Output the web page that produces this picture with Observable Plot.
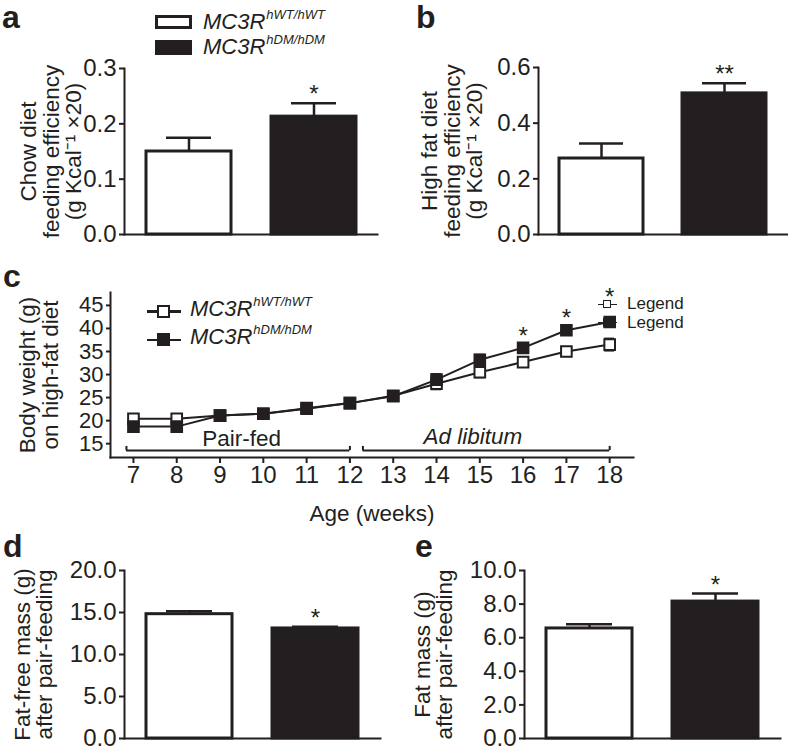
<!DOCTYPE html>
<html>
<head>
<meta charset="utf-8">
<script src="https://cdn.jsdelivr.net/npm/d3@7"></script>
<script src="https://cdn.jsdelivr.net/npm/@observablehq/plot@0.6"></script>
<style>
  body { margin: 0; background: #fff; }
  #fig { position: relative; width: 788px; height: 746px; overflow: hidden; background: #fff;
         font-family: 'Liberation Sans', Arial, Helvetica, sans-serif; color: #231f20; }
</style>
</head>
<body>
<div id="fig"></div>
<script>
// ---------------- data ----------------
const genotypes = ["MC3R hWT/hWT", "MC3R hDM/hDM"];

const chowEfficiency = [0.150, 0.213];
const chowEfficiencySem = [0.025, 0.024];
const chowSig = ["", "*"];

const hfdEfficiency = [0.273, 0.507];
const hfdEfficiencySem = [0.054, 0.036];
const hfdSig = ["", "**"];

const fatFreeMass = [14.8, 13.1];
const fatFreeMassSem = [0.35, 0.2];
const fatFreeSig = ["", "*"];

const fatMass = [6.55, 8.15];
const fatMassSem = [0.25, 0.48];
const fatMassSig = ["", "*"];

const weeks = [7, 8, 9, 10, 11, 12, 13, 14, 15, 16, 17, 18];
const wtWeight = [20.4, 20.4, 21.1, 21.5, 22.7, 23.8, 25.4, 28.0, 30.5, 32.7, 35.0, 36.5];
const wtWeightSem = [0.5, 0.5, 0.4, 0.4, 0.5, 0.5, 0.5, 1.2, 1.1, 0.7, 0.8, 1.3];
const dmWeight = [18.7, 18.7, 21.1, 21.5, 22.6, 23.8, 25.3, 28.9, 33.2, 35.8, 39.6, 41.4];
const dmWeightSem = [0.7, 0.7, 0.5, 0.4, 0.5, 0.5, 0.5, 1.2, 1.1, 0.9, 1.0, 0.6];
const weightSig = ["", "", "", "", "", "", "", "", "", "*", "*", "*"];

const phases = ["Pair-fed", "Ad libitum"];
const phaseStart = [7, 12];
const phaseEnd = [12, 18];

const chowTicks = [0, 0.1, 0.2, 0.3];
const hfdTicks = [0, 0.2, 0.4, 0.6];
const fatFreeTicks = [0, 5, 10, 15, 20];
const fatTicks = [0, 2, 4, 6, 8, 10];
const weightTicks = [15, 20, 25, 30, 35, 40, 45];

// ---------------- helpers ----------------
const INK = "#231f20";
const FONT = "'Liberation Sans', Arial, Helvetica, sans-serif";
const STYLE = {fontFamily: FONT, fontSize: "24px", color: INK, background: "transparent", overflow: "visible"};
const fig = document.getElementById("fig");

function place(node, left, top) {
  node.style.position = "absolute";
  node.style.left = left + "px";
  node.style.top = top + "px";
  fig.appendChild(node);
}
function addText(html, left, baseline, size, extra = "") {
  const d = document.createElement("div");
  d.innerHTML = html;
  d.style.cssText = `position:absolute;left:${left}px;top:${baseline - 0.8465 * size}px;font-size:${size}px;line-height:1;white-space:nowrap;font-family:${FONT};color:${INK};${extra}`;
  fig.appendChild(d);
}
function addBox(left, top, w, h, css) {
  const d = document.createElement("div");
  d.style.cssText = `position:absolute;left:${left}px;top:${top}px;width:${w}px;height:${h}px;box-sizing:border-box;${css}`;
  fig.appendChild(d);
}
const f1 = d3.format(".1f");
const yTitle = (t, dx) => Plot.text([t], {text: d => d, frameAnchor: "left", textAnchor: "middle", rotate: -90, lineAnchor: "bottom", dx, fontSize: 22.5, fill: INK});

function barPanel(o) {
  const rows = genotypes.map((g, i) => ({g, v: o.means[i], e: o.sems[i], s: o.sig[i]}));
  const p = Plot.plot({
    width: o.width, height: o.height,
    marginTop: o.mt, marginBottom: o.mb, marginLeft: o.ml, marginRight: o.mr,
    style: STYLE,
    x: {type: "band", domain: genotypes, paddingInner: 0.32, paddingOuter: 0.17, axis: null},
    y: {domain: [0, o.ticks[o.ticks.length - 1]]},
    marks: [
      Plot.barY(rows.slice(0, 1), {x: "g", y: "v", fill: "#fff", stroke: INK, strokeWidth: 3}),
      Plot.barY(rows.slice(1), {x: "g", y: "v", fill: INK, stroke: INK, strokeWidth: 3}),
      Plot.ruleX(rows, {x: "g", y1: "v", y2: d => d.v + d.e, stroke: INK, strokeWidth: 2.5}),
      Plot.tickY(rows, {x: "g", y: d => d.v + d.e, stroke: INK, strokeWidth: 2.5, insetLeft: 20, insetRight: 20}),
      Plot.text(rows, {x: "g", y: d => d.v + d.e, text: "s", lineAnchor: "bottom", dy: -1, fontSize: 24, fill: INK}),
      Plot.axisY({ticks: o.ticks, tickFormat: f1, tickSize: 5, tickPadding: 3, strokeWidth: 2, stroke: INK, label: null, fontSize: 24}),
      Plot.frame({anchor: "left", stroke: INK, strokeWidth: 2}),
      Plot.frame({anchor: "bottom", stroke: INK, strokeWidth: 2}),
      ...o.ylabel.map((t, i) => yTitle(t, o.labelDx[i]))
    ]
  });
  place(p, o.left, o.top);
}

// ---------------- panel a ----------------
barPanel({
  means: chowEfficiency, sems: chowEfficiencySem, sig: chowSig, ticks: chowTicks,
  left: 0, top: 0, width: 400, height: 250, mt: 68, mb: 16, ml: 124, mr: 23,
  ylabel: ["Chow diet", "feeding efficiency", "(g Kcal\u207B\u00B9 \u00D720)"], labelDx: [-89, -66, -44]
});
// ---------------- panel b ----------------
barPanel({
  means: hfdEfficiency, sems: hfdEfficiencySem, sig: hfdSig, ticks: hfdTicks,
  left: 400, top: 0, width: 388, height: 250, mt: 67, mb: 16, ml: 138, mr: 1,
  ylabel: ["High fat diet", "feeding efficiency", "(g Kcal\u207B\u00B9 \u00D720)"], labelDx: [-102, -79, -57]
});
// ---------------- panel d ----------------
barPanel({
  means: fatFreeMass, sems: fatFreeMassSem, sig: fatFreeSig, ticks: fatFreeTicks,
  left: 0, top: 520, width: 400, height: 226, mt: 50, mb: 8, ml: 124, mr: 20,
  ylabel: ["Fat-free mass (g)", "after pair-feeding"], labelDx: [-95, -73]
});
// ---------------- panel e ----------------
barPanel({
  means: fatMass, sems: fatMassSem, sig: fatMassSig, ticks: fatTicks,
  left: 400, top: 520, width: 388, height: 226, mt: 50, mb: 8, ml: 124, mr: 8,
  ylabel: ["Fat mass (g)", "after pair-feeding"], labelDx: [-95, -73]
});

// ---------------- panel c ----------------
const wt = weeks.map((w, i) => ({w, v: wtWeight[i], e: wtWeightSem[i]}));
const dm = weeks.map((w, i) => ({w, v: dmWeight[i], e: dmWeightSem[i], s: weightSig[i]}));
const phaseRows = phases.map((p, i) => ({p, a: phaseStart[i], b: phaseEnd[i]}));
const bracketY = () => 13.5;
function errMarks(rows) {
  return [
    Plot.ruleX(rows, {x: "w", y1: d => d.v - d.e, y2: d => d.v + d.e, stroke: INK, strokeWidth: 2}),
    Plot.ruleY(rows, {x1: "w", x2: "w", y: d => d.v + d.e, insetLeft: -5, insetRight: -5, stroke: INK, strokeWidth: 2}),
    Plot.ruleY(rows, {x1: "w", x2: "w", y: d => d.v - d.e, insetLeft: -5, insetRight: -5, stroke: INK, strokeWidth: 2})
  ];
}
const pc = Plot.plot({
  width: 788, height: 280, marginTop: 42, marginBottom: 73, marginLeft: 110, marginRight: 155,
  style: STYLE,
  x: {domain: [6.47, 18.55]},
  y: {domain: [12, 47.8]},
  marks: [
    Plot.axisX({ticks: weeks, tickSize: 6, tickPadding: 2, strokeWidth: 2, stroke: INK, label: null, tickFormat: d => String(d), fontSize: 24}),
    Plot.axisY({ticks: weightTicks, tickSize: 4, tickPadding: 3, strokeWidth: 2, stroke: INK, label: null, fontSize: 22}),
    Plot.frame({anchor: "left", stroke: INK, strokeWidth: 2}),
    Plot.frame({anchor: "bottom", stroke: INK, strokeWidth: 2}),
    // phase brackets
    Plot.ruleY(phaseRows.slice(0, 1), {x1: "a", x2: "b", y: bracketY, insetLeft: -7, stroke: INK, strokeWidth: 2}),
    Plot.ruleY(phaseRows.slice(1), {x1: "a", x2: "b", y: bracketY, insetLeft: 13, stroke: INK, strokeWidth: 2}),
    Plot.ruleX(phaseRows.slice(0, 1), {x: "a", y1: bracketY, y2: () => 14.4, dx: -7, stroke: INK, strokeWidth: 2}),
    Plot.ruleX(phaseRows.slice(0, 1), {x: "b", y1: bracketY, y2: () => 14.4, stroke: INK, strokeWidth: 2}),
    Plot.ruleX(phaseRows.slice(1), {x: "a", y1: bracketY, y2: () => 14.4, dx: 13, stroke: INK, strokeWidth: 2}),
    Plot.ruleX(phaseRows.slice(1), {x: "b", y1: bracketY, y2: () => 14.4, stroke: INK, strokeWidth: 2}),
    Plot.text(phaseRows.slice(0, 1), {x: d => (d.a + d.b) / 2, y: bracketY, text: "p", lineAnchor: "bottom", dy: -5, fontSize: 22.5, fill: INK}),
    Plot.text(phaseRows.slice(1), {x: d => (d.a + d.b) / 2, y: bracketY, text: "p", lineAnchor: "bottom", dy: -7, dx: -7, fontSize: 22.5, fontStyle: "italic", fill: INK}),
    // series
    Plot.line(wt, {x: "w", y: "v", stroke: INK, strokeWidth: 2}),
    Plot.line(dm, {x: "w", y: "v", stroke: INK, strokeWidth: 2}),
    ...errMarks(wt),
    ...errMarks(dm),
    Plot.dot(wt, {x: "w", y: "v", symbol: "square", r: 6, fill: "#fff", stroke: INK, strokeWidth: 2}),
    Plot.dot(dm, {x: "w", y: "v", symbol: "square", r: 6, fill: INK, stroke: INK, strokeWidth: 2}),
    // significance
    Plot.text(dm.filter(d => d.s && d.w < 18), {x: "w", y: d => d.v + d.e, text: "s", lineAnchor: "bottom", dy: 0, fontSize: 24, fill: INK}),
    Plot.text(dm.filter(d => d.s && d.w === 18), {x: "w", y: d => d.v + d.e, text: "s", lineAnchor: "bottom", dy: -14, fontSize: 24, fill: INK}),
    // axis titles
    Plot.text(["Age (weeks)"], {text: d => d, frameAnchor: "bottom", lineAnchor: "bottom", dy: 63, fontSize: 22.5, fill: INK}),
    yTitle("Body weight (g)", -76),
    yTitle("on high-fat diet", -53)
  ]
});
place(pc, 0, 250);

// ---------------- legends ----------------
const sup = s => `<span style="font-size:13px;position:relative;top:-10.5px;margin-left:1px">${s}</span>`;
// top legend (panels a, b, d, e)
addBox(155, 15, 37, 14, `border:3px solid ${INK};background:#fff`);
addBox(155, 40, 37, 15, `background:${INK}`);
addText("MC3R" + sup("hWT/hWT"), 203, 30, 22, "font-style:italic");
addText("MC3R" + sup("hDM/hDM"), 203, 55, 22, "font-style:italic");
// panel c legend
addBox(147, 310, 34, 2.5, `background:${INK}`);
addBox(156.5, 304.5, 13, 13, `border:2.5px solid ${INK};background:#fff`);
addText("MC3R" + sup("hWT/hWT"), 190, 317, 22, "font-style:italic");
addBox(147, 338.5, 34, 2.5, `background:${INK}`);
addBox(156.5, 333, 13, 13, `background:${INK}`);
addText("MC3R" + sup("hDM/hDM"), 190, 345, 22, "font-style:italic");
// stray legend entries at the right of panel c
addBox(598, 303.5, 19, 1.5, `background:${INK}`);
addBox(603, 300, 8, 8, `border:1.5px solid ${INK};background:#fff`);
addText("Legend", 627, 309.5, 17);
addBox(598, 321.5, 19, 1.5, `background:${INK}`);
addBox(603, 318, 9, 9, `background:${INK}`);
addText("Legend", 627, 328, 17);

// ---------------- panel letters ----------------
addText("a", 2, 28, 32, "font-weight:bold");
addText("b", 416, 28, 32, "font-weight:bold");
addText("c", 3, 287, 32, "font-weight:bold");
addText("d", 3, 557, 32, "font-weight:bold");
addText("e", 415, 557, 32, "font-weight:bold");
</script>
</body>
</html>
